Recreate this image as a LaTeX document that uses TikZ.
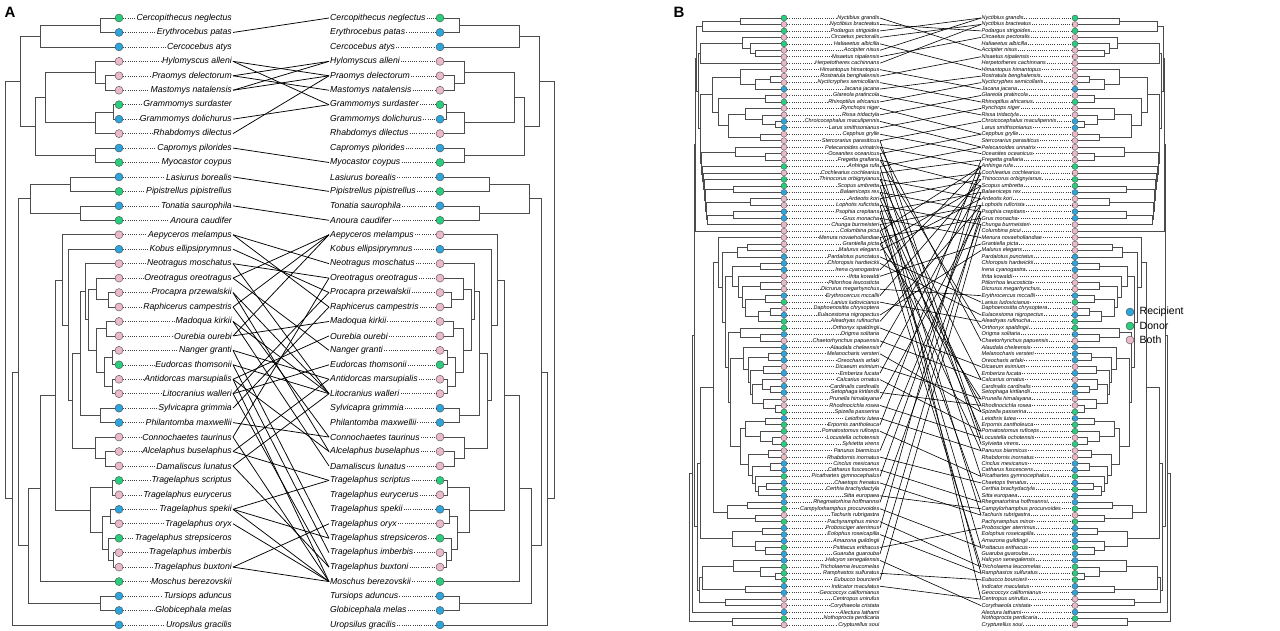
\documentclass[tikz,border=0pt]{standalone}
\usepackage{fontspec}
\setmainfont{Liberation Sans}
\usetikzlibrary{calc, positioning}
\definecolor{rc}{RGB}{45,165,220}
\definecolor{dn}{RGB}{40,205,125}
\definecolor{bt}{RGB}{235,185,200}
\tikzstyle{dotA}=[circle, draw=black!70, line width=0.4pt, inner sep=0pt, minimum size=8pt]
\tikzstyle{dotB}=[circle, draw=black!70, line width=0.35pt, inner sep=0pt, minimum size=6pt]
\tikzstyle{labA}=[inner sep=1pt, font=\fontsize{8.7}{9}\selectfont\itshape]
\tikzstyle{labB}=[inner sep=0.5pt, font=\fontsize{5.5}{6}\selectfont\itshape]
\tikzstyle{leader}=[line width=0.6pt, black!75, dash pattern=on 0.6pt off 1.6pt]
\tikzstyle{treeline}=[line width=0.7pt, black!70]
\tikzstyle{link}=[line width=0.75pt, black]

% tips and clades of the trees (x of the node, then the two children)
\newcommand\leaf[1]{\pgfmathsetmacro\tmpy{18+(#1-1)*\rowh}\xdef\tcy{\tmpy}\xdef\tcx{\tipx}}
\newcommand\clade[3]{\begingroup #2\edef\ya{\tcy}\edef\xa{\tcx}#3\edef\yb{\tcy}\edef\xb{\tcx}%
  \draw[treeline] (\xa,\ya) -- (#1,\ya) -- (#1,\yb) -- (\xb,\yb);%
  \pgfmathsetmacro\ym{(\ya+\yb)/2}\xdef\tcy{\ym}\xdef\tcx{#1}\endgroup}

\newcommand\treeA{%
\clade{5}{\clade{20}{\clade{40}{\clade{100}{\leaf{1}}{\leaf{2}}}{\leaf{3}}}%
  {\clade{35}{\clade{45}{\clade{95}{\leaf{4}}{\clade{105}{\leaf{5}}{\leaf{6}}}}{\clade{95}{\clade{113}{\leaf{7}}{\leaf{8}}}{\leaf{9}}}}%
   {\clade{95}{\leaf{10}}{\leaf{11}}}}}%
 {\clade{12}{\clade{18}{\clade{30}{\clade{70}{\leaf{12}}{\leaf{13}}}{\clade{80}{\leaf{14}}{\leaf{15}}}}%
   {\clade{28}{\clade{40}{\clade{55}%
      {\clade{62}{\leaf{16}}{\clade{68}{\leaf{17}}{\clade{72}%
         {\clade{80}{\clade{85}{\leaf{18}}{\clade{88}%
            {\clade{96}{\leaf{19}}{\clade{108}{\leaf{20}}{\leaf{21}}}}%
            {\clade{96}{\clade{106}{\leaf{22}}{\leaf{23}}}{\clade{104}{\clade{112}{\leaf{24}}{\leaf{25}}}{\clade{112}{\leaf{26}}{\leaf{27}}}}}}}%
          {\clade{100}{\leaf{28}}{\leaf{29}}}}%
         {\clade{95}{\leaf{30}}{\clade{105}{\leaf{31}}{\leaf{32}}}}}}}%
      {\clade{90}{\clade{112}{\leaf{33}}{\leaf{34}}}{\clade{102}{\clade{110}{\leaf{35}}{\leaf{36}}}{\clade{108}{\leaf{37}}{\clade{113}{\leaf{38}}{\leaf{39}}}}}}}%
     {\leaf{40}}}%
    {\clade{100}{\leaf{41}}{\leaf{42}}}}}%
  {\leaf{43}}}}

\newcommand\treeB{%
\clade{689}{\clade{692}{\clade{694}%
  {\clade{695}{\clade{696}{\clade{702}{\clade{740}{\leaf{1}}{\leaf{2}}}{\leaf{3}}}%
    {\clade{698}{\clade{700}{\clade{742}{\leaf{4}}{\clade{750}{\leaf{5}}{\clade{755}{\leaf{6}}{\leaf{7}}}}}{\leaf{8}}}%
     {\clade{700}{\clade{712}{\clade{740}{\leaf{9}}{\clade{755}{\clade{770}{\leaf{10}}{\leaf{11}}}{\leaf{12}}}}%
        {\clade{718}{\clade{765}{\leaf{13}}{\leaf{14}}}{\clade{728}{\clade{745}{\leaf{15}}{\clade{762}{\leaf{16}}{\clade{775}{\leaf{17}}{\leaf{18}}}}}{\clade{760}{\leaf{19}}{\leaf{20}}}}}}%
      {\clade{701}{\clade{735}{\leaf{21}}{\clade{765}{\leaf{22}}{\leaf{23}}}}%
       {\clade{702}{\leaf{24}}{\clade{703}{\leaf{25}}{\clade{704}{\leaf{26}}%
        {\clade{705}{\clade{733}{\leaf{27}}{\leaf{28}}}{\clade{706}{\clade{750}{\leaf{29}}{\leaf{30}}}%
         {\clade{707}{\clade{733}{\leaf{31}}{\leaf{32}}}{\leaf{33}}}}}}}}}}}}%
   {\leaf{34}}}%
  {\clade{697}{\clade{700}%
    {\clade{713}{\clade{718}{\leaf{35}}{\clade{722}{\clade{737}{\clade{747}{\leaf{36}}{\leaf{37}}}{\leaf{38}}}%
       {\clade{725}{\clade{732}{\clade{760}{\leaf{39}}{\leaf{40}}}{\clade{738}{\leaf{41}}{\clade{742}{\clade{760}{\leaf{42}}{\leaf{43}}}%
           {\clade{745}{\clade{765}{\leaf{44}}{\leaf{45}}}{\clade{758}{\clade{770}{\leaf{46}}{\leaf{47}}}{\leaf{48}}}}}}}%
        {\clade{728}{\clade{740}{\leaf{49}}{\clade{760}{\leaf{50}}{\leaf{51}}}}%
         {\clade{730}{\clade{743}{\leaf{52}}{\clade{748}{\clade{768}{\leaf{53}}{\leaf{54}}}{\clade{750}{\clade{763}{\leaf{55}}{\leaf{56}}}%
             {\clade{752}{\clade{762}{\leaf{57}}{\clade{770}{\leaf{58}}{\leaf{59}}}}{\clade{763}{\leaf{60}}{\clade{775}{\leaf{61}}{\leaf{62}}}}}}}}%
          {\clade{740}{\clade{745}{\clade{765}{\leaf{63}}{\leaf{64}}}{\clade{760}{\leaf{65}}{\clade{772}{\leaf{66}}{\leaf{67}}}}}%
           {\clade{748}{\clade{768}{\leaf{68}}{\leaf{69}}}{\clade{752}{\clade{770}{\leaf{70}}{\leaf{71}}}%
            {\clade{755}{\leaf{72}}{\clade{758}{\clade{766}{\leaf{73}}{\leaf{74}}}{\leaf{75}}}}}}}}}}}}%
      {\clade{727}{\clade{747}{\leaf{76}}{\leaf{77}}}{\clade{755}{\leaf{78}}{\leaf{79}}}}}%
    {\clade{732}{\clade{762}{\leaf{80}}{\leaf{81}}}{\clade{755}{\leaf{82}}{\clade{765}{\leaf{83}}{\leaf{84}}}}}}%
   {\clade{699}{\clade{702}{\clade{733}{\leaf{85}}{\clade{760}{\leaf{86}}{\clade{775}{\leaf{87}}{\leaf{88}}}}}{\clade{745}{\leaf{89}}{\leaf{90}}}}%
    {\clade{725}{\leaf{91}}{\leaf{92}}}}}}%
 {\leaf{93}}}%
{\clade{732}{\leaf{94}}{\leaf{95}}}}

\def\mammals{Cercopithecus neglectus/dn, Erythrocebus patas/rc, Cercocebus atys/rc, Hylomyscus alleni/bt,
 Praomys delectorum/bt, Mastomys natalensis/bt, Grammomys surdaster/dn, Grammomys dolichurus/rc,
 Rhabdomys dilectus/bt, Capromys pilorides/rc, Myocastor coypus/dn, Lasiurus borealis/rc,
 Pipistrellus pipistrellus/dn, Tonatia saurophila/rc, Anoura caudifer/dn, Aepyceros melampus/bt,
 Kobus ellipsiprymnus/rc, Neotragus moschatus/bt, Oreotragus oreotragus/bt, Procapra przewalskii/bt,
 Raphicerus campestris/bt, Madoqua kirkii/bt, Ourebia ourebi/bt, Nanger granti/bt, Eudorcas thomsonii/dn,
 Antidorcas marsupialis/bt, Litocranius walleri/bt, Sylvicapra grimmia/rc, Philantomba maxwellii/rc,
 Connochaetes taurinus/bt, Alcelaphus buselaphus/bt, Damaliscus lunatus/bt, Tragelaphus scriptus/dn,
 Tragelaphus eurycerus/bt, Tragelaphus spekii/rc, Tragelaphus oryx/bt, Tragelaphus strepsiceros/dn,
 Tragelaphus imberbis/bt, Tragelaphus buxtoni/bt, Moschus berezovskii/dn, Tursiops aduncus/rc,
 Globicephala melas/rc, Uropsilus gracilis/rc}

\def\birds{Nyctibius grandis/dn, Nyctibius bracteatus/bt, Podargus strigoides/dn, Circaetus pectoralis/bt,
 Haliaeetus albicilla/dn, Accipiter nisus/bt, Nisaetus nipalensis/bt, Herpetotheres cachinnans/bt,
 Himantopus himantopus/bt, Rostratula benghalensis/bt, Nycticryphes semicollaris/bt, Jacana jacana/rc,
 Glareola pratincola/bt, Rhinoptilus africanus/dn, Rynchops niger/bt, Rissa tridactyla/bt,
 Chroicocephalus maculipennis/rc, Larus smithsonianus/rc, Cepphus grylle/bt, Stercorarius parasiticus/bt,
 Pelecanoides urinatrix/bt, Oceanites oceanicus/bt, Fregetta grallaria/bt, Anhinga rufa/dn,
 Cochlearius cochlearius/bt, Thinocorus orbignyianus/dn, Scopus umbretta/dn, Balaeniceps rex/rc,
 Ardeotis kori/bt, Lophotis ruficrista/bt, Psophia crepitans/rc, Grus monacha/rc, Chunga burmeisteri/bt,
 Columbina picui/bt, Menura novaehollandiae/bt, Grantiella picta/bt, Malurus elegans/bt,
 Pardalotus punctatus/rc, Chloropsis hardwickii/rc, Irena cyanogastra/rc, Ifrita kowaldi/bt,
 Ptilorrhoa leucosticta/bt, Dicrurus megarhynchus/bt, Erythrocercus mccallii/rc, Lanius ludovicianus/dn,
 Daphoenositta chrysoptera/bt, Eulacestoma nigropectus/rc, Aleadryas rufinucha/dn, Orthonyx spaldingii/dn,
 Origma solitaria/rc, Chaetorhynchus papuensis/bt, Alaudala cheleensis/rc, Melanocharis versteri/rc,
 Oreocharis arfaki/rc, Dicaeum eximium/bt, Emberiza fucata/rc, Calcarius ornatus/bt,
 Cardinalis cardinalis/rc, Setophaga kirtlandii/rc, Prunella himalayana/bt, Rhodinocichla rosea/bt,
 Spizella passerina/dn, Leiothrix lutea/rc, Erpornis zantholeuca/dn, Pomatostomus ruficeps/dn,
 Locustella ochotensis/bt, Sylvietta virens/dn, Panurus biarmicus/bt, Rhabdornis inornatus/bt,
 Cinclus mexicanus/rc, Catharus fuscescens/rc, Picathartes gymnocephalus/dn, Chaetops frenatus/rc,
 Certhia brachydactyla/dn, Sitta europaea/rc, Rhegmatorhina hoffmannsi/rc, Campylorhamphus procurvoides/dn,
 Tachuris rubrigastra/bt, Pachyramphus minor/dn, Probosciger aterrimus/rc, Eolophus roseicapilla/rc,
 Amazona guildingii/rc, Psittacus erithacus/dn, Guaruba guarouba/rc, Halcyon senegalensis/rc,
 Tricholaema leucomelas/dn, Ramphastos sulfuratus/dn, Eubucco bourcierii/dn, Indicator maculatus/rc,
 Geococcyx californianus/rc, Centropus unirufus/bt, Corythaeola cristata/bt, Alectura lathami/rc,
 Nothoprocta perdicaria/dn, Crypturellus soui/bt}

\begin{document}
\begin{tikzpicture}[x=1pt, y=-1pt]
\useasboundingbox (0,0) rectangle (1280,630);
\node [font=\bfseries\fontsize{15}{16}\selectfont] (pA) at (10,12) {A};
\node [font=\bfseries\fontsize{15}{16}\selectfont] (pB) at (679,12) {B};

% trees
\def\rowh{14.45}\def\tipx{119}
\treeA
\begin{scope}[xshift=559pt, xscale=-1] \treeA \end{scope}
\def\rowh{6.457}\def\tipx{784}
\treeB
\begin{scope}[xshift=1859pt, xscale=-1] \treeB \end{scope}

% panel A
\foreach \nm/\cl [count=\i] in \mammals {
 \pgfmathsetmacro\yy{18+(\i-1)*14.45}
 \node [dotA, fill=\cl] (adL\i) at (119,\yy) {};
 \node [labA, anchor=east] (aL\i) at (233,\yy) {\nm};
 \draw [leader] (adL\i.east) -- (aL\i.west);
 \node [dotA, fill=\cl] (adR\i) at (440,\yy) {};
 \node [labA, anchor=west] (aR\i) at (329,\yy) {\nm};
 \draw [leader] (aR\i.east) -- (adR\i.west);
}
\foreach \a/\b in {2/1, 4/5, 4/7, 5/4, 5/6, 6/4, 6/5, 8/7, 9/5, 10/11, 12/13, 14/15,
 16/18, 16/21, 17/20, 18/19, 18/27, 19/16, 19/24, 20/27, 20/31, 21/16, 21/30, 22/27, 22/32,
 23/16, 23/22, 24/26, 24/37, 25/27, 25/38, 26/23, 26/31, 27/20, 27/25, 27/39, 28/21, 29/30,
 30/19, 30/40, 31/26, 31/33, 32/27, 32/39, 26/40, 35/33, 35/37, 35/40, 36/40, 39/36, 39/40}
 \draw [link] (aL\a.east) -- (aR\b.west);

% panel B
\foreach \nm/\cl [count=\i] in \birds {
 \pgfmathsetmacro\yy{18+(\i-1)*6.457}
 \node [dotB, fill=\cl] (bdL\i) at (784,\yy) {};
 \node [labB, anchor=east] (bL\i) at (880,\yy) {\nm};
 \draw [leader] (bdL\i.east) -- (bL\i.west);
 \node [dotB, fill=\cl] (bdR\i) at (1075,\yy) {};
 \node [labB, anchor=west] (bR\i) at (981,\yy) {\nm};
 \draw [leader] (bR\i.east) -- (bdR\i.west);
}
\foreach \a/\b in {1/6, 2/3, 3/1, 4/2, 5/9, 6/1, 7/4, 8/2, 9/12, 10/7, 11/14, 12/10, 13/16,
 14/11, 15/19, 16/13, 17/21, 18/15, 19/22, 20/17, 21/24, 22/19, 23/27, 24/21, 25/23, 26/29,
 27/25, 28/31, 29/26, 30/33, 31/28, 32/35, 33/30, 34/24, 35/32, 36/27, 37/29,
 22/67, 24/72, 27/78, 29/65, 30/83, 31/87, 32/61, 33/76, 26/57, 28/62, 25/91, 23/49, 21/51,
 20/66, 34/68, 35/86, 36/60,
 40/24, 44/26, 48/30, 52/25, 56/27, 60/31, 64/23, 68/30, 72/28, 76/32, 80/24, 84/31, 88/33,
 38/45, 39/47, 41/36, 43/44, 45/48, 47/37, 49/55, 51/57, 53/62, 55/60, 57/65, 59/61, 61/66,
 63/68, 65/72, 69/73, 71/76, 73/78, 75/77, 77/83, 79/86, 81/87, 83/80, 85/92, 87/88, 89/91}
 \draw [link, line width=0.6pt] (bL\a.east) -- (bR\b.west);

% legend
\node [dotA, fill=rc] (kr) at (1130,312) {};
\node [dotA, fill=dn] (kd) at (1130,326) {};
\node [dotA, fill=bt] (kb) at (1130,340) {};
\node [right=2pt of kr, font=\fontsize{10.5}{12}\selectfont] (tr) {Recipient};
\node [right=2pt of kd, font=\fontsize{10.5}{12}\selectfont] (td) {Donor};
\node [right=2pt of kb, font=\fontsize{10.5}{12}\selectfont] (tb) {Both};
\end{tikzpicture}
\end{document}
